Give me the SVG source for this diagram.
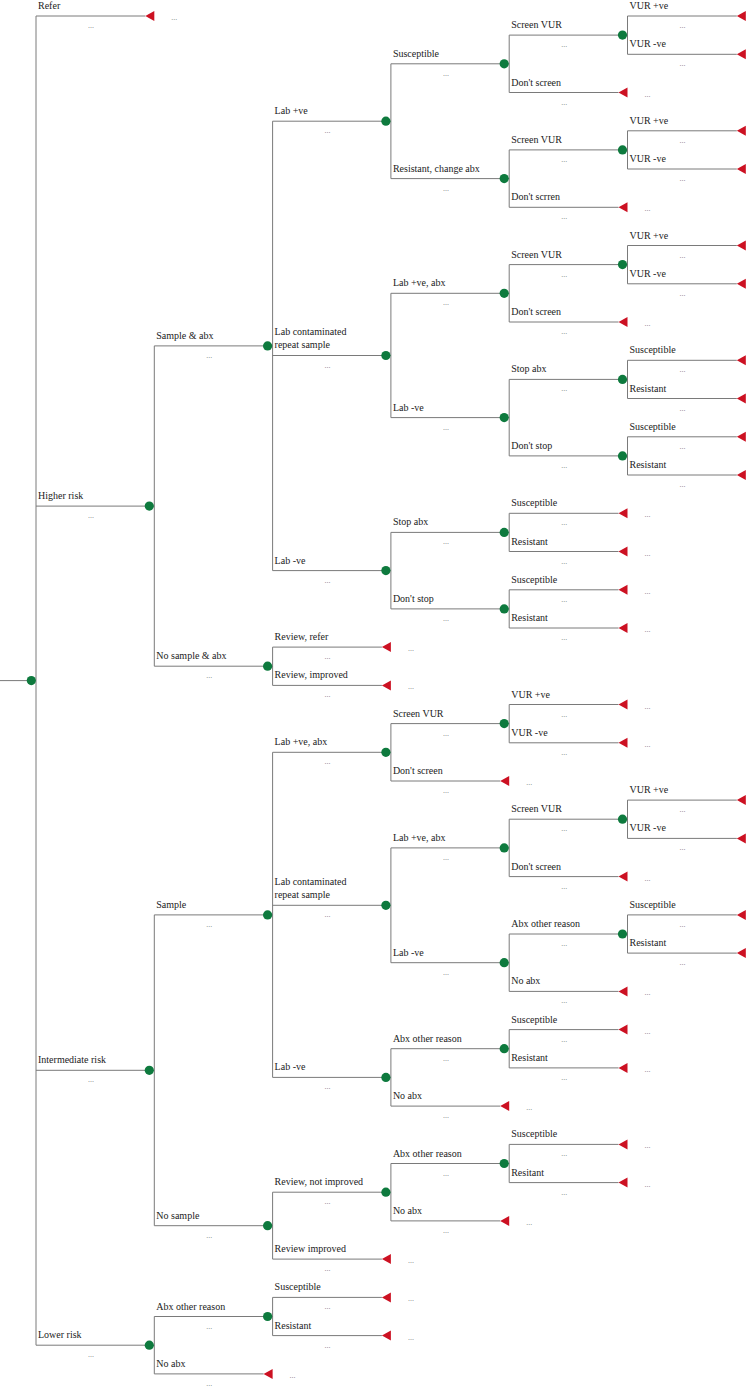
<svg xmlns="http://www.w3.org/2000/svg" xmlns:xlink="http://www.w3.org/1999/xlink" width="748" height="1388" viewBox="0 0 748 1388">
<style>
.ln{stroke:#7a7a7a;stroke-width:1;fill:none}
.ch{fill:#0e7a3e}
.tm{fill:#cc1122}
.lb{font-family:"Liberation Serif","Times New Roman",serif;font-size:10px;fill:#222}
.dt{font-family:"Liberation Serif","Times New Roman",serif;font-size:8px;fill:#777;text-anchor:middle}
</style>
<defs>
<circle id="c" class="ch" cx="0" cy="0" r="4.6"/>
<path id="t" class="tm" d="M-9,0L0,-5L0,5Z"/>
</defs>
<rect width="748" height="1388" fill="#fff"/>
<g id="connectors" class="ln">
<path d="M0,680.6H31.3 M36,16V1345.2
M154.3,345.9V666.2 M154.3,914.9V1225.7 M154.3,1316.5V1373.9
M272.6,121.2V570.6 M272.6,647.1V685.4 M272.6,752.3V1077.4 M272.6,1192.2V1259.1 M272.6,1297.4V1335.6
M390.9,63.8V178.6 M390.9,293.3V417.6 M390.9,532.4V608.9 M390.9,723.6V781 M390.9,847.9V962.7 M390.9,1048.7V1106.1 M390.9,1163.5V1220.9
M509.2,35.1V92.5 M509.2,149.9V207.3 M509.2,264.6V322 M509.2,379.4V455.9 M509.2,513.3V551.5 M509.2,589.8V628 M509.2,704.5V742.8 M509.2,819.2V876.6 M509.2,934V991.4 M509.2,1029.6V1067.9 M509.2,1144.4V1182.6
M627.5,16V54.3 M627.5,130.8V169 M627.5,245.5V283.8 M627.5,360.3V398.5 M627.5,436.8V475 M627.5,800.1V838.4 M627.5,914.9V953.1
M36,16H145.3 M36,506.1H154.3 M36,1070.3H154.3 M36,1345.2H154.3
M154.3,345.9H272.6 M154.3,666.2H272.6 M154.3,914.9H272.6 M154.3,1225.7H272.6 M154.3,1316.5H272.6 M154.3,1373.9H263.6
M272.6,121.2H390.9 M272.6,355.5H390.9 M272.6,570.6H390.9 M272.6,647.1H381.9 M272.6,685.4H381.9 M272.6,752.3H390.9 M272.6,905.3H390.9 M272.6,1077.4H390.9 M272.6,1192.2H390.9 M272.6,1259.1H381.9 M272.6,1297.4H381.9 M272.6,1335.6H381.9
M390.9,63.8H509.2 M390.9,178.6H509.2 M390.9,293.3H509.2 M390.9,417.6H509.2 M390.9,532.4H509.2 M390.9,608.9H509.2 M390.9,723.6H509.2 M390.9,781H500.2 M390.9,847.9H509.2 M390.9,962.7H509.2 M390.9,1048.7H509.2 M390.9,1106.1H500.2 M390.9,1163.5H509.2 M390.9,1220.9H500.2
M509.2,35.1H627.5 M509.2,92.5H618.5 M509.2,149.9H627.5 M509.2,207.3H618.5 M509.2,264.6H627.5 M509.2,322H618.5 M509.2,379.4H627.5 M509.2,455.9H627.5 M509.2,513.3H618.5 M509.2,551.5H618.5 M509.2,589.8H618.5 M509.2,628H618.5 M509.2,704.5H618.5 M509.2,742.8H618.5 M509.2,819.2H627.5 M509.2,876.6H618.5 M509.2,934H627.5 M509.2,991.4H618.5 M509.2,1029.6H618.5 M509.2,1067.9H618.5 M509.2,1144.4H618.5 M509.2,1182.6H618.5
M627.5,16H736.8 M627.5,54.3H736.8 M627.5,130.8H736.8 M627.5,169H736.8 M627.5,245.5H736.8 M627.5,283.8H736.8 M627.5,360.3H736.8 M627.5,398.5H736.8 M627.5,436.8H736.8 M627.5,475H736.8 M627.5,800.1H736.8 M627.5,838.4H736.8 M627.5,914.9H736.8 M627.5,953.1H736.8"/>
</g>
<g id="root"><use href="#c" x="31.3" y="680.6"/></g>
<!-- level 1 -->
<g id="n-refer"><use href="#t" x="154.3" y="16"/><text class="lb" x="38" y="9">Refer</text><text class="dt" x="91" y="28">...</text><text class="dt" x="174.3" y="20">...</text></g>
<g id="n-higher"><use href="#c" x="149.3" y="506.1"/><text class="lb" x="38" y="499.1">Higher risk</text><text class="dt" x="91" y="518.1">...</text></g>
<g id="n-intermediate"><use href="#c" x="149.3" y="1070.3"/><text class="lb" x="38" y="1063.3">Intermediate risk</text><text class="dt" x="91" y="1082.3">...</text></g>
<g id="n-lower"><use href="#c" x="149.3" y="1345.2"/><text class="lb" x="38" y="1338.2">Lower risk</text><text class="dt" x="91" y="1357.2">...</text></g>
<!-- level 2 -->
<g id="n-h-sample"><use href="#c" x="267.6" y="345.9"/><text class="lb" x="156.3" y="338.9">Sample &amp; abx</text><text class="dt" x="209.3" y="357.9">...</text></g>
<g id="n-h-nosample"><use href="#c" x="267.6" y="666.2"/><text class="lb" x="156.3" y="659.2">No sample &amp; abx</text><text class="dt" x="209.3" y="678.2">...</text></g>
<g id="n-i-sample"><use href="#c" x="267.6" y="914.9"/><text class="lb" x="156.3" y="907.9">Sample</text><text class="dt" x="209.3" y="926.9">...</text></g>
<g id="n-i-nosample"><use href="#c" x="267.6" y="1225.7"/><text class="lb" x="156.3" y="1218.7">No sample</text><text class="dt" x="209.3" y="1237.7">...</text></g>
<g id="n-l-abx"><use href="#c" x="267.6" y="1316.5"/><text class="lb" x="156.3" y="1309.5">Abx other reason</text><text class="dt" x="209.3" y="1328.5">...</text></g>
<g id="n-l-noabx"><use href="#t" x="272.6" y="1373.9"/><text class="lb" x="156.3" y="1366.9">No abx</text><text class="dt" x="209.3" y="1385.9">...</text><text class="dt" x="292.6" y="1377.9">...</text></g>
<!-- level 3 -->
<g id="n-h-labpos"><use href="#c" x="385.9" y="121.2"/><text class="lb" x="274.6" y="114.2">Lab +ve</text><text class="dt" x="327.6" y="133.2">...</text></g>
<g id="n-h-labcont"><use href="#c" x="385.9" y="355.5"/><text class="lb" x="274.6" y="335">Lab contaminated</text><text class="lb" x="274.6" y="348">repeat sample</text><text class="dt" x="327.6" y="367.5">...</text></g>
<g id="n-h-labneg"><use href="#c" x="385.9" y="570.6"/><text class="lb" x="274.6" y="563.6">Lab -ve</text><text class="dt" x="327.6" y="582.6">...</text></g>
<g id="n-h-revrefer"><use href="#t" x="390.9" y="647.1"/><text class="lb" x="274.6" y="640.1">Review, refer</text><text class="dt" x="327.6" y="659.1">...</text><text class="dt" x="410.9" y="651.1">...</text></g>
<g id="n-h-revimp"><use href="#t" x="390.9" y="685.4"/><text class="lb" x="274.6" y="678.4">Review, improved</text><text class="dt" x="327.6" y="697.4">...</text><text class="dt" x="410.9" y="689.4">...</text></g>
<g id="n-i-labpos"><use href="#c" x="385.9" y="752.3"/><text class="lb" x="274.6" y="745.3">Lab +ve, abx</text><text class="dt" x="327.6" y="764.3">...</text></g>
<g id="n-i-labcont"><use href="#c" x="385.9" y="905.3"/><text class="lb" x="274.6" y="884.8">Lab contaminated</text><text class="lb" x="274.6" y="897.8">repeat sample</text><text class="dt" x="327.6" y="917.3">...</text></g>
<g id="n-i-labneg"><use href="#c" x="385.9" y="1077.4"/><text class="lb" x="274.6" y="1070.4">Lab -ve</text><text class="dt" x="327.6" y="1089.4">...</text></g>
<g id="n-i-revnot"><use href="#c" x="385.9" y="1192.2"/><text class="lb" x="274.6" y="1185.2">Review, not improved</text><text class="dt" x="327.6" y="1204.2">...</text></g>
<g id="n-i-revimp"><use href="#t" x="390.9" y="1259.1"/><text class="lb" x="274.6" y="1252.1">Review improved</text><text class="dt" x="327.6" y="1271.1">...</text><text class="dt" x="410.9" y="1263.1">...</text></g>
<g id="n-l-sus"><use href="#t" x="390.9" y="1297.4"/><text class="lb" x="274.6" y="1290.4">Susceptible</text><text class="dt" x="327.6" y="1309.4">...</text><text class="dt" x="410.9" y="1301.4">...</text></g>
<g id="n-l-res"><use href="#t" x="390.9" y="1335.6"/><text class="lb" x="274.6" y="1328.6">Resistant</text><text class="dt" x="327.6" y="1347.6">...</text><text class="dt" x="410.9" y="1339.6">...</text></g>
<!-- level 4 -->
<g id="n4-1"><use href="#c" x="504.2" y="63.8"/><text class="lb" x="392.9" y="56.8">Susceptible</text><text class="dt" x="445.9" y="75.8">...</text></g>
<g id="n4-2"><use href="#c" x="504.2" y="178.6"/><text class="lb" x="392.9" y="171.6">Resistant, change abx</text><text class="dt" x="445.9" y="190.6">...</text></g>
<g id="n4-3"><use href="#c" x="504.2" y="293.3"/><text class="lb" x="392.9" y="286.3">Lab +ve, abx</text><text class="dt" x="445.9" y="305.3">...</text></g>
<g id="n4-4"><use href="#c" x="504.2" y="417.6"/><text class="lb" x="392.9" y="410.6">Lab -ve</text><text class="dt" x="445.9" y="429.6">...</text></g>
<g id="n4-5"><use href="#c" x="504.2" y="532.4"/><text class="lb" x="392.9" y="525.4">Stop abx</text><text class="dt" x="445.9" y="544.4">...</text></g>
<g id="n4-6"><use href="#c" x="504.2" y="608.9"/><text class="lb" x="392.9" y="601.9">Don't stop</text><text class="dt" x="445.9" y="620.9">...</text></g>
<g id="n4-7"><use href="#c" x="504.2" y="723.6"/><text class="lb" x="392.9" y="716.6">Screen VUR</text><text class="dt" x="445.9" y="735.6">...</text></g>
<g id="n4-8"><use href="#t" x="509.2" y="781"/><text class="lb" x="392.9" y="774">Don't screen</text><text class="dt" x="445.9" y="793">...</text><text class="dt" x="529.2" y="785">...</text></g>
<g id="n4-9"><use href="#c" x="504.2" y="847.9"/><text class="lb" x="392.9" y="840.9">Lab +ve, abx</text><text class="dt" x="445.9" y="859.9">...</text></g>
<g id="n4-10"><use href="#c" x="504.2" y="962.7"/><text class="lb" x="392.9" y="955.7">Lab -ve</text><text class="dt" x="445.9" y="974.7">...</text></g>
<g id="n4-11"><use href="#c" x="504.2" y="1048.7"/><text class="lb" x="392.9" y="1041.7">Abx other reason</text><text class="dt" x="445.9" y="1060.7">...</text></g>
<g id="n4-12"><use href="#t" x="509.2" y="1106.1"/><text class="lb" x="392.9" y="1099.1">No abx</text><text class="dt" x="445.9" y="1118.1">...</text><text class="dt" x="529.2" y="1110.1">...</text></g>
<g id="n4-13"><use href="#c" x="504.2" y="1163.5"/><text class="lb" x="392.9" y="1156.5">Abx other reason</text><text class="dt" x="445.9" y="1175.5">...</text></g>
<g id="n4-14"><use href="#t" x="509.2" y="1220.9"/><text class="lb" x="392.9" y="1213.9">No abx</text><text class="dt" x="445.9" y="1232.9">...</text><text class="dt" x="529.2" y="1224.9">...</text></g>
<!-- level 5 -->
<g id="n5-1"><use href="#c" x="622.5" y="35.1"/><text class="lb" x="511.2" y="28.1">Screen VUR</text><text class="dt" x="564.2" y="47.1">...</text></g>
<g id="n5-2"><use href="#t" x="627.5" y="92.5"/><text class="lb" x="511.2" y="85.5">Don't screen</text><text class="dt" x="564.2" y="104.5">...</text><text class="dt" x="647.5" y="96.5">...</text></g>
<g id="n5-3"><use href="#c" x="622.5" y="149.9"/><text class="lb" x="511.2" y="142.9">Screen VUR</text><text class="dt" x="564.2" y="161.9">...</text></g>
<g id="n5-4"><use href="#t" x="627.5" y="207.3"/><text class="lb" x="511.2" y="200.3">Don't scrren</text><text class="dt" x="564.2" y="219.3">...</text><text class="dt" x="647.5" y="211.3">...</text></g>
<g id="n5-5"><use href="#c" x="622.5" y="264.6"/><text class="lb" x="511.2" y="257.6">Screen VUR</text><text class="dt" x="564.2" y="276.6">...</text></g>
<g id="n5-6"><use href="#t" x="627.5" y="322"/><text class="lb" x="511.2" y="315">Don't screen</text><text class="dt" x="564.2" y="334">...</text><text class="dt" x="647.5" y="326">...</text></g>
<g id="n5-7"><use href="#c" x="622.5" y="379.4"/><text class="lb" x="511.2" y="372.4">Stop abx</text><text class="dt" x="564.2" y="391.4">...</text></g>
<g id="n5-8"><use href="#c" x="622.5" y="455.9"/><text class="lb" x="511.2" y="448.9">Don't stop</text><text class="dt" x="564.2" y="467.9">...</text></g>
<g id="n5-9"><use href="#t" x="627.5" y="513.3"/><text class="lb" x="511.2" y="506.3">Susceptible</text><text class="dt" x="564.2" y="525.3">...</text><text class="dt" x="647.5" y="517.3">...</text></g>
<g id="n5-10"><use href="#t" x="627.5" y="551.5"/><text class="lb" x="511.2" y="544.5">Resistant</text><text class="dt" x="564.2" y="563.5">...</text><text class="dt" x="647.5" y="555.5">...</text></g>
<g id="n5-11"><use href="#t" x="627.5" y="589.8"/><text class="lb" x="511.2" y="582.8">Susceptible</text><text class="dt" x="564.2" y="601.8">...</text><text class="dt" x="647.5" y="593.8">...</text></g>
<g id="n5-12"><use href="#t" x="627.5" y="628"/><text class="lb" x="511.2" y="621">Resistant</text><text class="dt" x="564.2" y="640">...</text><text class="dt" x="647.5" y="632">...</text></g>
<g id="n5-13"><use href="#t" x="627.5" y="704.5"/><text class="lb" x="511.2" y="697.5">VUR +ve</text><text class="dt" x="564.2" y="716.5">...</text><text class="dt" x="647.5" y="708.5">...</text></g>
<g id="n5-14"><use href="#t" x="627.5" y="742.8"/><text class="lb" x="511.2" y="735.8">VUR -ve</text><text class="dt" x="564.2" y="754.8">...</text><text class="dt" x="647.5" y="746.8">...</text></g>
<g id="n5-15"><use href="#c" x="622.5" y="819.2"/><text class="lb" x="511.2" y="812.2">Screen VUR</text><text class="dt" x="564.2" y="831.2">...</text></g>
<g id="n5-16"><use href="#t" x="627.5" y="876.6"/><text class="lb" x="511.2" y="869.6">Don't screen</text><text class="dt" x="564.2" y="888.6">...</text><text class="dt" x="647.5" y="880.6">...</text></g>
<g id="n5-17"><use href="#c" x="622.5" y="934"/><text class="lb" x="511.2" y="927">Abx other reason</text><text class="dt" x="564.2" y="946">...</text></g>
<g id="n5-18"><use href="#t" x="627.5" y="991.4"/><text class="lb" x="511.2" y="984.4">No abx</text><text class="dt" x="564.2" y="1003.4">...</text><text class="dt" x="647.5" y="995.4">...</text></g>
<g id="n5-19"><use href="#t" x="627.5" y="1029.6"/><text class="lb" x="511.2" y="1022.6">Susceptible</text><text class="dt" x="564.2" y="1041.6">...</text><text class="dt" x="647.5" y="1033.6">...</text></g>
<g id="n5-20"><use href="#t" x="627.5" y="1067.9"/><text class="lb" x="511.2" y="1060.9">Resistant</text><text class="dt" x="564.2" y="1079.9">...</text><text class="dt" x="647.5" y="1071.9">...</text></g>
<g id="n5-21"><use href="#t" x="627.5" y="1144.4"/><text class="lb" x="511.2" y="1137.4">Susceptible</text><text class="dt" x="564.2" y="1156.4">...</text><text class="dt" x="647.5" y="1148.4">...</text></g>
<g id="n5-22"><use href="#t" x="627.5" y="1182.6"/><text class="lb" x="511.2" y="1175.6">Resitant</text><text class="dt" x="564.2" y="1194.6">...</text><text class="dt" x="647.5" y="1186.6">...</text></g>
<!-- level 6 -->
<g id="n6-1"><use href="#t" x="745.8" y="16"/><text class="lb" x="629.5" y="9">VUR +ve</text><text class="dt" x="682.5" y="28">...</text></g>
<g id="n6-2"><use href="#t" x="745.8" y="54.3"/><text class="lb" x="629.5" y="47.3">VUR -ve</text><text class="dt" x="682.5" y="66.3">...</text></g>
<g id="n6-3"><use href="#t" x="745.8" y="130.8"/><text class="lb" x="629.5" y="123.8">VUR +ve</text><text class="dt" x="682.5" y="142.8">...</text></g>
<g id="n6-4"><use href="#t" x="745.8" y="169"/><text class="lb" x="629.5" y="162">VUR -ve</text><text class="dt" x="682.5" y="181">...</text></g>
<g id="n6-5"><use href="#t" x="745.8" y="245.5"/><text class="lb" x="629.5" y="238.5">VUR +ve</text><text class="dt" x="682.5" y="257.5">...</text></g>
<g id="n6-6"><use href="#t" x="745.8" y="283.8"/><text class="lb" x="629.5" y="276.8">VUR -ve</text><text class="dt" x="682.5" y="295.8">...</text></g>
<g id="n6-7"><use href="#t" x="745.8" y="360.3"/><text class="lb" x="629.5" y="353.3">Susceptible</text><text class="dt" x="682.5" y="372.3">...</text></g>
<g id="n6-8"><use href="#t" x="745.8" y="398.5"/><text class="lb" x="629.5" y="391.5">Resistant</text><text class="dt" x="682.5" y="410.5">...</text></g>
<g id="n6-9"><use href="#t" x="745.8" y="436.8"/><text class="lb" x="629.5" y="429.8">Susceptible</text><text class="dt" x="682.5" y="448.8">...</text></g>
<g id="n6-10"><use href="#t" x="745.8" y="475"/><text class="lb" x="629.5" y="468">Resistant</text><text class="dt" x="682.5" y="487">...</text></g>
<g id="n6-11"><use href="#t" x="745.8" y="800.1"/><text class="lb" x="629.5" y="793.1">VUR +ve</text><text class="dt" x="682.5" y="812.1">...</text></g>
<g id="n6-12"><use href="#t" x="745.8" y="838.4"/><text class="lb" x="629.5" y="831.4">VUR -ve</text><text class="dt" x="682.5" y="850.4">...</text></g>
<g id="n6-13"><use href="#t" x="745.8" y="914.9"/><text class="lb" x="629.5" y="907.9">Susceptible</text><text class="dt" x="682.5" y="926.9">...</text></g>
<g id="n6-14"><use href="#t" x="745.8" y="953.1"/><text class="lb" x="629.5" y="946.1">Resistant</text><text class="dt" x="682.5" y="965.1">...</text></g>
</svg>
